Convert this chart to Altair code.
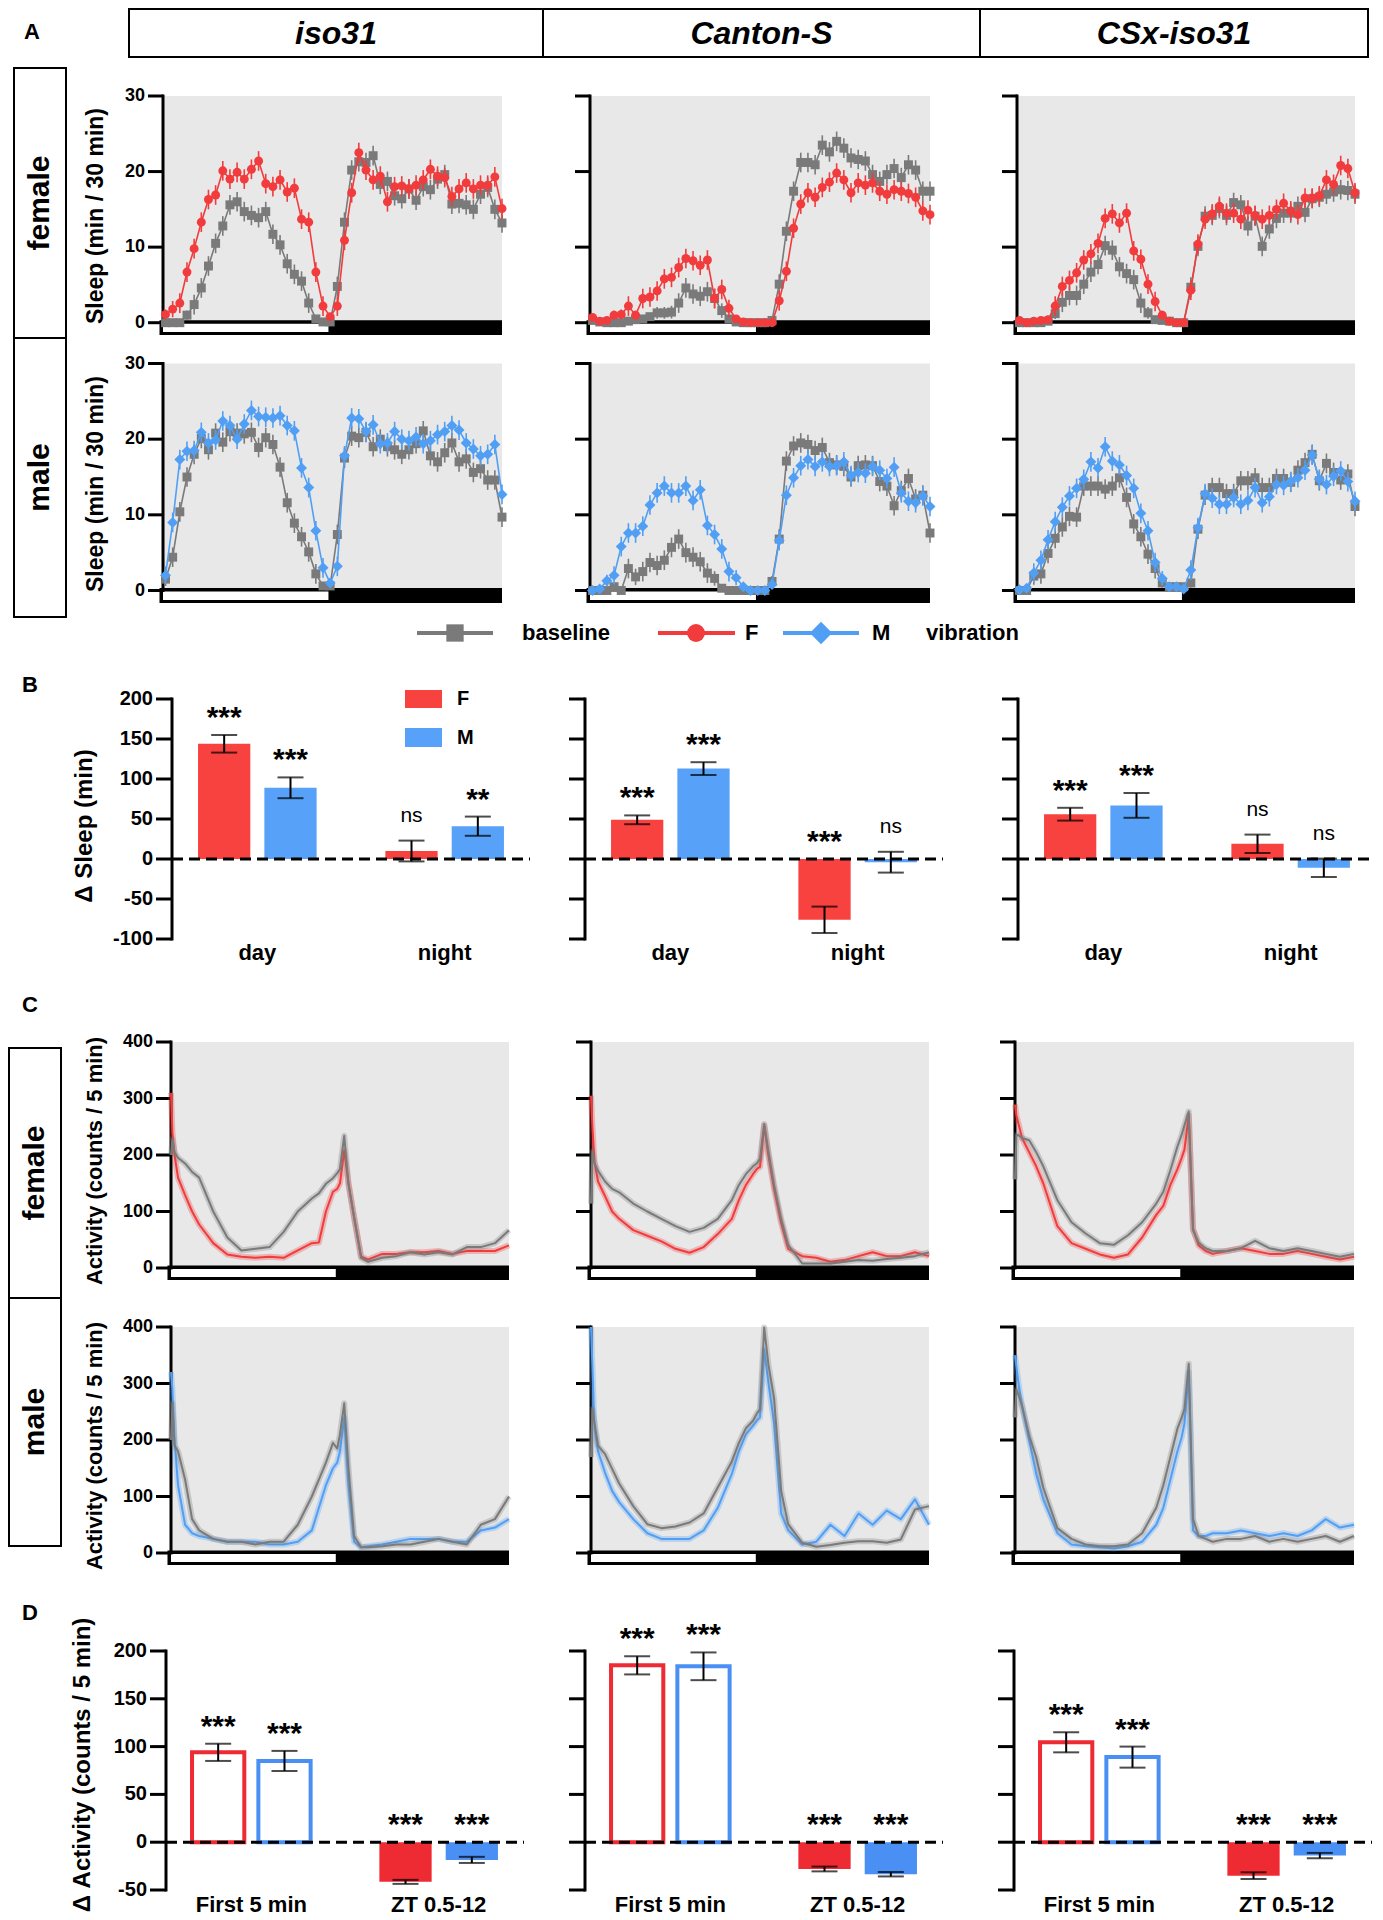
import altair as alt
import numpy as np
import pandas as pd

W, H = 1367, 1912
FONT = "Liberation Sans, Arial, Helvetica, sans-serif"
GRAY = "#7a7a7a"
RED = "#f23b3c"
BLUE = "#519ff5"
RED_B = "#f8423f"
BLUE_B = "#58a1f9"
RED_D = "#ee2a33"
BLUE_D = "#4a90f4"
BG = "#e8e8e8"

# ------------------------------------------------------------------ data
STRAINS = ["iso31", "Canton-S", "CSx-iso31"]

# Panel A: sleep (min / 30 min), 48 half-hour bins from ZT0
A_ISO31_F_BASE = [0, 0, 0, 1.0, 2.4, 4.6, 7.5, 10.5, 12.8, 15.6,
                  16.0, 14.7, 14.2, 13.9, 14.7, 11.7, 10.3, 7.8, 6.4, 5.5,
                  2.6, 0.5, 0.1, 0.1, 4.8, 13.3, 20.2, 21.3, 21.2, 22.1,
                  18.3, 18.7, 16.8, 16.4, 17.7, 16.2, 18.0, 17.6, 19.0, 19.6,
                  15.7, 15.8, 15.6, 15.0, 17.0, 17.9, 15.0, 13.2]
A_ISO31_F_VIB = [1.1, 1.8, 2.6, 6.7, 9.8, 13.3, 16.3, 16.9, 20.1, 19.0,
                 19.9, 19.0, 20.3, 21.4, 18.4, 18.0, 18.9, 17.3, 17.8, 13.7,
                 13.3, 6.7, 2.2, 0.8, 2.2, 10.9, 17.2, 22.5, 20.2, 18.9,
                 19.4, 16.0, 18.0, 18.1, 17.7, 18.2, 18.9, 20.3, 19.4, 19.2,
                 16.7, 17.7, 18.5, 17.7, 18.2, 18.2, 19.3, 15.1]
A_ISO31_M_BASE = [1.5, 4.4, 10.4, 15.0, 18.0, 20.1, 18.6, 20.8, 19.6, 21.0,
                  20.8, 20.7, 20.9, 18.9, 20.2, 19.3, 16.3, 11.6, 8.9, 7.1,
                  5.1, 2.2, 0.6, 0.6, 7.4, 17.5, 20.4, 20.2, 20.9, 19.0,
                  20.0, 19.0, 18.6, 18.0, 18.6, 19.4, 21.1, 17.8, 17.0, 18.2,
                  19.5, 17.0, 17.4, 15.6, 16.1, 14.6, 14.6, 9.7]
A_ISO31_M_VIB = [2.0, 9.0, 17.3, 18.4, 18.5, 20.9, 19.5, 19.9, 22.4, 21.8,
                 20.0, 22.0, 23.8, 23.0, 22.9, 22.8, 23.1, 21.8, 21.1, 16.2,
                 13.6, 7.9, 3.0, 1.0, 3.2, 17.8, 22.8, 22.7, 21.0, 21.9,
                 19.4, 19.5, 21.0, 20.0, 19.8, 20.3, 19.4, 19.8, 20.6, 21.0,
                 21.8, 21.2, 19.5, 18.7, 17.8, 18.0, 19.3, 12.7]
A_CS_F_BASE = [0.3, 0.1, 0, 0, 0, 0.2, 0.4, 0.5, 0.8, 1.3,
               1.3, 1.4, 2.6, 4.6, 3.8, 3.5, 4.1, 3.2, 1.6, 0.5,
               0.1, 0, 0, 0, 0, 0.3, 5.1, 12.1, 17.4, 21.2,
               21.2, 20.9, 23.5, 22.6, 24.0, 23.1, 21.8, 21.6, 21.4, 19.6,
               18.7, 19.6, 20.4, 19.2, 20.9, 20.2, 17.4, 17.4]
A_CS_F_VIB = [0.7, 0.2, 0.3, 1.0, 1.1, 2.2, 1.0, 3.2, 3.4, 4.2,
              5.8, 6.0, 7.3, 8.5, 8.2, 7.6, 8.3, 3.2, 4.4, 1.9,
              0.5, 0.1, 0, 0, 0, 0, 2.9, 6.8, 12.5, 15.7,
              17.2, 16.6, 17.9, 18.6, 19.8, 18.9, 17.2, 18.5, 18.2, 18.5,
              17.4, 17.0, 17.6, 17.4, 17.1, 16.6, 14.8, 14.3]
A_CS_M_BASE = [0, 0, 0, 0.5, 0, 2.9, 1.8, 2.5, 3.7, 3.3,
               4.0, 5.7, 6.8, 5.0, 4.4, 3.8, 2.3, 1.6, 0.3, 0,
               0, 0, 0, 0, 0, 1.2, 6.8, 17.1, 19.1, 19.5,
               19.3, 18.5, 18.9, 16.9, 16.6, 16.4, 15.0, 16.5, 16.6, 16.5,
               14.4, 13.8, 11.2, 13.2, 14.8, 12.1, 12.6, 7.6]
A_CS_M_VIB = [0, 0.2, 1.3, 2.0, 5.8, 7.6, 7.6, 8.5, 11.3, 12.9,
              13.8, 12.9, 12.9, 13.8, 11.9, 13.3, 8.6, 7.4, 5.5, 2.5,
              1.7, 0.5, 0, 0, 0, 0.8, 6.6, 12.6, 14.9, 16.5,
              17.3, 16.4, 17.0, 16.4, 16.5, 17.0, 15.2, 15.6, 15.5, 16.4,
              15.9, 14.8, 16.3, 12.9, 11.8, 11.6, 12.5, 11.1]
A_CSX_F_BASE = [0, 0, 0, 0, 0.2, 1.2, 2.7, 3.6, 3.6, 5.1,
                6.7, 7.7, 10.2, 9.6, 7.4, 6.5, 5.7, 2.6, 1.3, 0.4,
                0.3, 0.2, 0, 0, 4.7, 10.1, 14.1, 14.2, 15.1, 14.2,
                15.9, 15.6, 12.8, 14.1, 10.1, 12.4, 13.8, 14.5, 14.5, 15.4,
                14.6, 16.4, 16.6, 17.0, 17.3, 17.6, 17.5, 17.0]
A_CSX_F_VIB = [0.3, 0, 0.2, 0.3, 0.4, 2.2, 4.8, 5.6, 6.6, 8.3,
               9.1, 10.5, 13.8, 14.4, 13.2, 14.5, 9.5, 8.4, 5.1, 2.8,
               1.0, 0.2, 0, 0, 4.3, 10.4, 13.7, 14.4, 15.4, 14.5,
               14.5, 13.7, 14.9, 14.2, 13.7, 14.2, 15.0, 15.8, 14.8, 14.3,
               16.5, 16.5, 16.8, 18.9, 18.3, 20.8, 20.4, 17.2]
A_CSX_M_BASE = [0, 0, 1.9, 2.2, 4.9, 6.9, 8.4, 9.8, 9.7, 13.8,
                13.8, 13.8, 13.4, 13.8, 14.9, 12.3, 8.8, 7.1, 4.8, 2.9,
                1.0, 0.5, 0.5, 0.5, 1.0, 8.1, 12.6, 13.6, 13.6, 12.8,
                12.8, 14.5, 14.5, 14.9, 13.6, 13.6, 14.8, 14.8, 14.3, 15.9,
                16.9, 18.0, 14.5, 16.8, 15.6, 14.6, 15.4, 11.1]
A_CSX_M_VIB = [0.1, 0.3, 2.3, 4.0, 6.7, 9.1, 11.0, 12.5, 13.5, 14.7,
               17.0, 16.2, 19.0, 17.1, 16.6, 15.2, 13.5, 10.2, 7.9, 3.7,
               1.6, 0.5, 0.5, 0.2, 2.7, 8.3, 12.8, 12.2, 11.4, 11.4,
               12.3, 11.4, 11.9, 13.6, 11.6, 12.4, 14.0, 13.9, 14.4, 14.9,
               15.9, 17.9, 14.7, 14.0, 15.1, 15.8, 14.4, 11.8]
A_SEM = 1.3
A_TICKS = [0, 10, 20, 30]

# Panel B: delta sleep (min)
B_CATS = ["day", "night"]
B_ISO31_F = [144, 10];   B_ISO31_F_SEM = [11, 13];   B_ISO31_F_SIG = ["***", "ns"]
B_ISO31_M = [89, 41];    B_ISO31_M_SEM = [13, 12];   B_ISO31_M_SIG = ["***", "**"]
B_CS_F = [49, -76];      B_CS_F_SEM = [5.5, 16.5];   B_CS_F_SIG = ["***", "***"]
B_CS_M = [113, -4];      B_CS_M_SEM = [8, 13];       B_CS_M_SIG = ["***", "ns"]
B_CSX_F = [56, 19];      B_CSX_F_SEM = [8, 11.5];    B_CSX_F_SIG = ["***", "ns"]
B_CSX_M = [67, -11];     B_CSX_M_SEM = [15.5, 11.5]; B_CSX_M_SIG = ["***", "ns"]
B_TICKS = [-100, -50, 0, 50, 100, 150, 200]

# Panel C: activity (counts / 5 min)
C_T = [0, 0.1, 0.25, 0.5, 1, 1.5, 2, 3, 4, 5, 6, 7, 8, 9, 10, 10.5, 11, 11.5, 11.8,
       12, 12.3, 12.6, 13, 13.5, 14, 15, 16, 17, 18, 19, 20, 21, 22, 23, 24]
C_ISO31_F_BASE = [200, 228, 205, 195, 185, 170, 160, 100, 54, 31, 34, 37, 64, 100, 123, 132, 149, 159, 168,
                  175, 234, 149, 90, 18, 11, 18, 21, 28, 24, 28, 24, 37, 37, 44, 67]
C_ISO31_F_VIB = [310, 240, 200, 160, 129, 100, 77, 44, 24, 20, 18, 20, 18, 31, 44, 45, 100, 135, 140,
                 150, 208, 150, 90, 20, 15, 25, 25, 28, 28, 30, 25, 30, 30, 30, 40]
C_ISO31_M_BASE = [200, 265, 190, 180, 130, 60, 40, 25, 20, 20, 15, 20, 20, 50, 100, 130, 160, 195, 185,
                  210, 265, 150, 30, 10, 10, 12, 15, 15, 20, 25, 20, 15, 50, 60, 100]
C_ISO31_M_VIB = [320, 290, 200, 120, 50, 35, 30, 25, 20, 20, 20, 15, 15, 20, 40, 80, 120, 150, 160,
                 180, 240, 120, 20, 10, 12, 15, 20, 25, 25, 25, 20, 20, 40, 45, 60]
C_CS_F_BASE = [114, 206, 185, 172, 153, 140, 134, 114, 100, 87, 74, 64, 71, 87, 120, 147, 166, 180, 186,
               193, 255, 206, 147, 87, 41, 8, 8, 8, 11, 14, 13, 16, 18, 21, 28]
C_CS_F_VIB = [305, 250, 187, 153, 127, 100, 87, 67, 57, 47, 34, 27, 37, 60, 87, 120, 147, 166, 176,
              179, 252, 199, 140, 80, 34, 21, 18, 11, 14, 21, 28, 21, 21, 28, 21]
C_CS_M_BASE = [170, 255, 230, 190, 175, 149, 123, 83, 51, 44, 47, 54, 70, 116, 162, 195, 221, 234, 248,
               254, 399, 333, 274, 110, 51, 18, 11, 14, 18, 21, 21, 18, 24, 77, 83]
C_CS_M_VIB = [400, 330, 220, 180, 142, 110, 90, 60, 35, 25, 25, 25, 40, 80, 140, 180, 210, 225, 235,
              240, 360, 300, 230, 70, 40, 15, 20, 50, 30, 70, 50, 75, 60, 95, 50]
C_CSX_F_BASE = [157, 236, 235, 230, 226, 205, 180, 120, 81, 61, 44, 41, 58, 81, 114, 135, 173, 215, 236,
                253, 277, 67, 45, 35, 30, 30, 35, 48, 35, 30, 35, 30, 25, 20, 25]
C_CSX_F_VIB = [289, 270, 255, 230, 205, 180, 150, 74, 44, 34, 24, 18, 24, 54, 94, 110, 147, 175, 195,
               210, 270, 70, 40, 30, 25, 30, 35, 30, 25, 25, 30, 25, 20, 15, 20]
C_CSX_M_BASE = [240, 290, 280, 260, 208, 170, 116, 44, 25, 15, 12, 12, 15, 35, 80, 120, 170, 220, 240,
                255, 335, 60, 30, 25, 20, 25, 25, 30, 20, 25, 20, 25, 30, 20, 30]
C_CSX_M_VIB = [350, 330, 300, 260, 200, 140, 95, 35, 15, 12, 10, 8, 12, 20, 50, 80, 130, 180, 205,
               230, 320, 40, 30, 30, 35, 35, 40, 35, 30, 35, 30, 40, 60, 45, 50]
C_TICKS = [0, 100, 200, 300, 400]

# Panel D: delta activity (counts / 5 min)
D_CATS = ["First 5 min", "ZT 0.5-12"]
D_ISO31_F = [94, -41.5];  D_ISO31_F_SEM = [9, 2.1]
D_ISO31_M = [85, -18.5];  D_ISO31_M_SEM = [10.5, 3.2]
D_CS_F = [185, -28];      D_CS_F_SEM = [9.5, 2.5]
D_CS_M = [184, -33.5];    D_CS_M_SEM = [14.5, 2.3]
D_CSX_F = [104.5, -35];   D_CSX_F_SEM = [10.5, 3.5]
D_CSX_M = [89, -14];      D_CSX_M_SEM = [11, 2.8]
D_SIG = ["***", "***"]
D_TICKS = [-50, 0, 50, 100, 150, 200]

# ------------------------------------------------------------------ layout
A_COLS = [(155, 494), (582, 922), (1009, 1347)]
A_ROWS = [(88, 314.7, 327), (355.5, 582.5, 595)]       # y(30), y(0), bar bottom
C_COLS = [(163, 501), (583, 921), (1007, 1346)]
C_ROWS = [(1034, 1260, 1272), (1319, 1545, 1557)]      # y(400), y(0), bar bottom
B_AXES = [164, 577, 1010]
D_AXES = [158, 577, 1006]
GROUP_W = 358
A_XMIN, A_XMAX, A_OFF = -0.175, 23.5, 11.38
C_XMIN, C_XMAX, C_OFF = 0.0, 24.0, 11.7

ONE = pd.DataFrame({"k": [0]})


def yticks(xs, ys, xmin, pxu, vals, labels, tick, size):
    df = pd.DataFrame({"v": vals, "xa": [xmin - tick / pxu] * len(vals), "xb": [xmin] * len(vals),
                       "lab": [str(v) for v in vals]})
    out = [alt.Chart(df).mark_rule(color="black", strokeWidth=3).encode(
        x=alt.X("xa:Q", scale=xs, axis=None), x2="xb:Q", y=alt.Y("v:Q", scale=ys, axis=None))]
    if labels:
        out.append(alt.Chart(df).mark_text(
            font=FONT, fontSize=size, fontWeight="bold", align="right", baseline="middle",
            dx=-(tick + 3), color="black").encode(
            x=alt.X("xb:Q", scale=xs, axis=None), y=alt.Y("v:Q", scale=ys, axis=None), text="lab:N"))
    return out


def frame_layers(xs, ys, x0px, x1px, xmin, xmax, xoff, ytopv, ylo, upu, ticks, labels):
    pxh = (x1px - x0px) / (xmax - xmin)
    frame = pd.DataFrame({
        "x0": [xmin, xmin - 3.5 / pxh, xmin],
        "x1": [xmax, xmax, xoff],
        "y0": [0, ylo, ylo + 3 / upu],
        "y1": [ytopv, 2.5 / upu, -1 / upu],
        "f": [BG, "black", "white"],
    })
    rect = alt.Chart(frame).mark_rect().encode(
        x=alt.X("x0:Q", scale=xs, axis=None), x2="x1:Q",
        y=alt.Y("y0:Q", scale=ys, axis=None), y2="y1:Q",
        fill=alt.Fill("f:N", scale=None))
    axl = alt.Chart(pd.DataFrame({"x": [xmin], "a": [0], "b": [ytopv]})).mark_rule(
        color="black", strokeWidth=3, strokeCap="square").encode(
        x=alt.X("x:Q", scale=xs, axis=None), y=alt.Y("a:Q", scale=ys, axis=None), y2="b:Q")
    return [rect, axl] + yticks(xs, ys, xmin, pxh, ticks, labels, 15, 18)


def sleep_panel(base, vib, vcol, vshape, vsize, col, row, labels):
    x0, x1 = A_COLS[col]
    ytop, yzero, ybot = A_ROWS[row]
    upu = (yzero - ytop) / 30.0
    ylo = -(ybot - yzero) / upu
    xs = alt.Scale(domain=[A_XMIN, A_XMAX], range=[x0, x1], nice=False, zero=False)
    ys = alt.Scale(domain=[ylo, 30], range=[ybot, ytop], nice=False, zero=False)
    layers = frame_layers(xs, ys, x0, x1, A_XMIN, A_XMAX, A_OFF, 30, ylo, upu, A_TICKS, labels)

    def series(vals, color, shape, size):
        v = np.array(vals, dtype=float)
        sem = np.minimum(A_SEM, 0.6 * v)
        df = pd.DataFrame({"t": np.arange(len(v)) * 0.5, "v": v, "lo": v - sem, "hi": v + sem})
        ex = alt.X("t:Q", scale=xs, axis=None)
        return [
            alt.Chart(df).mark_rule(color=color, strokeWidth=1.6).encode(
                x=ex, y=alt.Y("lo:Q", scale=ys, axis=None), y2="hi:Q"),
            alt.Chart(df).mark_line(color=color, strokeWidth=1.6).encode(
                x=ex, y=alt.Y("v:Q", scale=ys, axis=None)),
            alt.Chart(df).mark_point(shape=shape, filled=True, size=size, color=color, opacity=1).encode(
                x=ex, y=alt.Y("v:Q", scale=ys, axis=None)),
        ]

    layers += series(base, GRAY, "square", 80)
    layers += series(vib, vcol, vshape, vsize)
    return alt.layer(*layers)


def act_panel(base, vib, vcol, col, row, labels):
    x0, x1 = C_COLS[col]
    ytop, yzero, ybot = C_ROWS[row]
    upu = (yzero - ytop) / 400.0
    ylo = -(ybot - yzero) / upu
    xs = alt.Scale(domain=[C_XMIN, C_XMAX], range=[x0, x1], nice=False, zero=False)
    ys = alt.Scale(domain=[ylo, 400], range=[ybot, ytop], nice=False, zero=False)
    layers = frame_layers(xs, ys, x0, x1, C_XMIN, C_XMAX, C_OFF, 400, ylo, upu, C_TICKS, labels)
    df = pd.DataFrame({"t": C_T, "b": base, "v": vib})

    def trace(field, color):
        ex = alt.X("t:Q", scale=xs, axis=None)
        ey = alt.Y(f"{field}:Q", scale=ys, axis=None)
        return [
            alt.Chart(df).mark_line(color=color, strokeWidth=6, opacity=0.3, strokeJoin="round").encode(x=ex, y=ey),
            alt.Chart(df).mark_line(color=color, strokeWidth=2, strokeJoin="round").encode(x=ex, y=ey),
        ]

    layers += trace("v", vcol)
    layers += trace("b", GRAY)
    return alt.layer(*layers)


def bar_df(cats, f, fs, fsig, m, ms, msig, red, blue, open_cat=None):
    rows = []
    for i, c in enumerate(cats):
        for sex, mean, sem, sig, colr in (("F", f[i], fs[i], fsig[i], red), ("M", m[i], ms[i], msig[i], blue)):
            is_open = (c == open_cat)
            rows.append(dict(cat=c, sex=sex, mean=mean, zero=0, lo=mean - sem, hi=mean + sem,
                             top=max(mean + sem, 0), sig=sig,
                             fillc=("white" if is_open else colr), strokec=colr,
                             sw=(4 if is_open else 0)))
    return pd.DataFrame(rows)


def bar_panel(df, cats, axis_px, ydom, yrng, yvals, labels, label_dy):
    xs = alt.Scale(type="band", domain=cats, range=[axis_px, axis_px + GROUP_W],
                   paddingInner=0.367, paddingOuter=0.139)
    xo = alt.Scale(type="band", domain=["F", "M"], paddingInner=0.212, paddingOuter=0)
    ys = alt.Scale(domain=ydom, range=yrng, nice=False, zero=False)
    xcat = alt.X("cat:N", scale=xs, axis=None)
    xoff = alt.XOffset("sex:N", scale=xo)
    bars = alt.Chart(df).mark_bar().encode(
        x=xcat, xOffset=xoff,
        y=alt.Y("mean:Q", scale=ys, axis=None), y2="zero:Q",
        fill=alt.Fill("fillc:N", scale=None), stroke=alt.Stroke("strokec:N", scale=None),
        strokeWidth=alt.StrokeWidth("sw:Q", scale=None))
    err = alt.Chart(df).mark_rule(color="black", strokeWidth=2).encode(
        x=xcat, xOffset=xoff, y=alt.Y("lo:Q", scale=ys, axis=None), y2="hi:Q")
    cap_lo = alt.Chart(df).mark_tick(color="black", thickness=2, size=26, orient="horizontal").encode(
        x=xcat, xOffset=xoff, y=alt.Y("lo:Q", scale=ys, axis=None))
    cap_hi = alt.Chart(df).mark_tick(color="black", thickness=2, size=26, orient="horizontal").encode(
        x=xcat, xOffset=xoff, y=alt.Y("hi:Q", scale=ys, axis=None))
    stars = alt.Chart(df).transform_filter("datum.sig != 'ns'").mark_text(
        font=FONT, fontSize=30, fontWeight="bold", baseline="alphabetic", dy=-8, color="black").encode(
        x=xcat, xOffset=xoff, y=alt.Y("top:Q", scale=ys, axis=None), text="sig:N")
    ns = alt.Chart(df).transform_filter("datum.sig == 'ns'").mark_text(
        font=FONT, fontSize=21, fontWeight="normal", baseline="alphabetic", dy=-19, color="black").encode(
        x=xcat, xOffset=xoff, y=alt.Y("top:Q", scale=ys, axis=None), text="sig:N")
    catdf = pd.DataFrame({"cat": cats, "yb": [ydom[0]] * len(cats)})
    catlab = alt.Chart(catdf).mark_text(
        font=FONT, fontSize=22, fontWeight="bold", baseline="middle", dy=label_dy, color="black").encode(
        x=xcat, y=alt.Y("yb:Q", scale=ys, axis=None), text="cat:N")
    inner = alt.layer(bars, err, cap_lo, cap_hi, stars, ns, catlab)

    qx = alt.Scale(domain=[0, 1], range=[axis_px, axis_px + GROUP_W], nice=False, zero=False)
    zr = alt.Chart(pd.DataFrame({"a": [0], "b": [1], "z": [0]})).mark_rule(
        color="black", strokeWidth=3, strokeDash=[11, 6]).encode(
        x=alt.X("a:Q", scale=qx, axis=None), x2="b:Q", y=alt.Y("z:Q", scale=ys, axis=None))
    axl = alt.Chart(pd.DataFrame({"x": [0], "a": [ydom[0]], "b": [ydom[1]]})).mark_rule(
        color="black", strokeWidth=3, strokeCap="square").encode(
        x=alt.X("x:Q", scale=qx, axis=None), y=alt.Y("a:Q", scale=ys, axis=None), y2="b:Q")
    outer = alt.layer(zr, axl, *yticks(qx, ys, 0, GROUP_W, yvals, labels, 16, 20))
    return alt.layer(inner, outer).resolve_scale(x="independent")


# ------------------------------------------------------------------ decorations
def dtext(s, x, y, size, weight="bold", angle=0, style="normal", align="center", baseline="middle"):
    return alt.Chart(ONE).mark_text(text=s, font=FONT, fontSize=size, fontWeight=weight, fontStyle=style,
                                    angle=angle, align=align, baseline=baseline, color="black").encode(
        x=alt.value(x), y=alt.value(y))


def dbox(x0, x1, y0, y1, fill="white", stroke="black", sw=2):
    return alt.Chart(ONE).mark_rect(fill=fill, stroke=stroke, strokeWidth=sw).encode(
        x=alt.value(x0), x2=alt.value(x1), y=alt.value(y0), y2=alt.value(y1))


def dline(x0, x1, y, color, w=4):
    return alt.Chart(ONE).mark_rule(color=color, strokeWidth=w).encode(
        x=alt.value(x0), x2=alt.value(x1), y=alt.value(y))


def dpoint(x, y, shape, color, size):
    return alt.Chart(ONE).mark_point(shape=shape, filled=True, size=size, color=color, opacity=1).encode(
        x=alt.value(x), y=alt.value(y))


layers = []
# header
layers += [dbox(121, 535, 1, 49), dbox(535, 972, 1, 49), dbox(972, 1360, 1, 49)]
for s, cx in zip(STRAINS, [328, 753.5, 1166]):
    layers.append(dtext(s, cx, 26, 32, style="italic"))
# row boxes
layers += [dbox(6, 58, 60, 330), dbox(6, 58, 330, 609), dbox(1, 53, 1040, 1290), dbox(1, 53, 1290, 1538)]
layers += [dtext("female", 32, 195, 30, angle=270), dtext("male", 32, 469.5, 30, angle=270),
           dtext("female", 27, 1165, 30, angle=270), dtext("male", 27, 1414, 30, angle=270)]
# panel letters
layers += [dtext("A", 24, 24, 22), dtext("B", 22, 677, 22), dtext("C", 22, 997, 22), dtext("D", 22, 1605, 22)]
# axis titles
layers += [dtext("Sleep (min / 30 min)", 88, 208, 23, angle=270),
           dtext("Sleep (min / 30 min)", 88, 476, 23, angle=270),
           dtext("Δ Sleep (min)", 77, 818, 24, angle=270),
           dtext("Activity (counts / 5 min)", 87, 1153, 22, angle=270),
           dtext("Activity (counts / 5 min)", 87, 1438, 22, angle=270),
           dtext("Δ Activity (counts / 5 min)", 75, 1757, 24, angle=270)]

# panel A
A_SETS = [(A_ISO31_F_BASE, A_ISO31_F_VIB, A_ISO31_M_BASE, A_ISO31_M_VIB),
          (A_CS_F_BASE, A_CS_F_VIB, A_CS_M_BASE, A_CS_M_VIB),
          (A_CSX_F_BASE, A_CSX_F_VIB, A_CSX_M_BASE, A_CSX_M_VIB)]
for ci, (fb, fv, mb, mv) in enumerate(A_SETS):
    layers.append(sleep_panel(fb, fv, RED, "circle", 80, ci, 0, ci == 0))
    layers.append(sleep_panel(mb, mv, BLUE, "diamond", 120, ci, 1, ci == 0))

# legend (A)
LY = 625
layers += [dline(409, 485, LY, GRAY), dpoint(447, LY, "square", GRAY, 300),
           dtext("baseline", 514, LY, 22, align="left"),
           dline(650, 727, LY, RED), dpoint(688, LY, "circle", RED, 320),
           dtext("F", 737, LY, 22, align="left"),
           dline(775, 851, LY, BLUE), dpoint(813, LY, "diamond", BLUE, 500),
           dtext("M", 864, LY, 22, align="left"),
           dtext("vibration", 918, LY, 22, align="left")]

# panel B
B_SETS = [(B_ISO31_F, B_ISO31_F_SEM, B_ISO31_F_SIG, B_ISO31_M, B_ISO31_M_SEM, B_ISO31_M_SIG),
          (B_CS_F, B_CS_F_SEM, B_CS_F_SIG, B_CS_M, B_CS_M_SEM, B_CS_M_SIG),
          (B_CSX_F, B_CSX_F_SEM, B_CSX_F_SIG, B_CSX_M, B_CSX_M_SEM, B_CSX_M_SIG)]
for ci, (f, fs, fsig, m, ms, msig) in enumerate(B_SETS):
    df = bar_df(B_CATS, f, fs, fsig, m, ms, msig, RED_B, BLUE_B)
    layers.append(bar_panel(df, B_CATS, B_AXES[ci], [-100, 200], [931, 691], B_TICKS, ci == 0, 14))
layers += [dbox(397, 434, 682, 700, fill=RED_B, stroke=RED_B, sw=0),
           dtext("F", 449, 691, 20, align="left"),
           dbox(397, 434, 720, 739, fill=BLUE_B, stroke=BLUE_B, sw=0),
           dtext("M", 449, 729.5, 20, align="left")]

# panel C
C_SETS = [(C_ISO31_F_BASE, C_ISO31_F_VIB, C_ISO31_M_BASE, C_ISO31_M_VIB),
          (C_CS_F_BASE, C_CS_F_VIB, C_CS_M_BASE, C_CS_M_VIB),
          (C_CSX_F_BASE, C_CSX_F_VIB, C_CSX_M_BASE, C_CSX_M_VIB)]
for ci, (fb, fv, mb, mv) in enumerate(C_SETS):
    layers.append(act_panel(fb, fv, RED, ci, 0, ci == 0))
    layers.append(act_panel(mb, mv, BLUE, ci, 1, ci == 0))

# panel D
D_SETS = [(D_ISO31_F, D_ISO31_F_SEM, D_ISO31_M, D_ISO31_M_SEM),
          (D_CS_F, D_CS_F_SEM, D_CS_M, D_CS_M_SEM),
          (D_CSX_F, D_CSX_F_SEM, D_CSX_M, D_CSX_M_SEM)]
for ci, (f, fs, m, ms) in enumerate(D_SETS):
    df = bar_df(D_CATS, f, fs, D_SIG, m, ms, D_SIG, RED_D, BLUE_D, open_cat="First 5 min")
    layers.append(bar_panel(df, D_CATS, D_AXES[ci], [-50, 200], [1882, 1643], D_TICKS, ci == 0, 15))

chart = alt.layer(*layers).resolve_scale(
    x="independent", y="independent", xOffset="independent"
).properties(
    width=W, height=H, padding=0, background="white",
    autosize=alt.AutoSizeParams(type="none"),
).configure_view(stroke=None)

chart.save("out.html", embed_options={"renderer": "svg", "actions": False})
